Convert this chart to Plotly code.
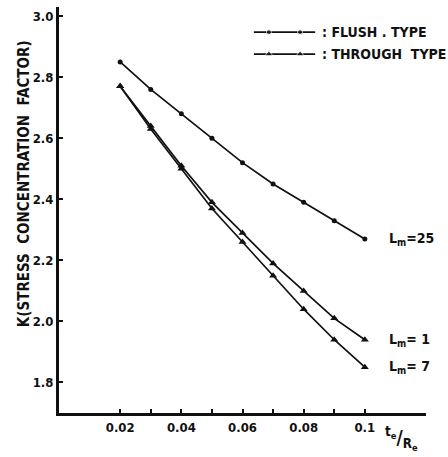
import plotly.graph_objects as go

# Relative thickness t_e/R_e
ratio = [0.02, 0.03, 0.04, 0.05, 0.06, 0.07, 0.08, 0.09, 0.10]

# Stress concentration factor K
k_flush_lm25 = [2.85, 2.76, 2.68, 2.60, 2.52, 2.45, 2.39, 2.33, 2.27]
k_through_lm1 = [2.77, 2.64, 2.51, 2.39, 2.29, 2.19, 2.10, 2.01, 1.94]
k_through_lm7 = [2.77, 2.63, 2.50, 2.37, 2.26, 2.15, 2.04, 1.94, 1.85]

curve_labels = ["L<sub>m</sub>=25", "L<sub>m</sub>= 1", "L<sub>m</sub>= 7"]
legend_names = [": FLUSH . TYPE", ": THROUGH  TYPE"]

x_ticks = [0.02, 0.03, 0.04, 0.05, 0.06, 0.07, 0.08, 0.09, 0.10]
x_tick_text = ["0.02", "", "0.04", "", "0.06", "", "0.08", "", "0.1"]
y_ticks = [1.8, 2.0, 2.2, 2.4, 2.6, 2.8, 3.0]
y_tick_text = ["1.8", "2.0", "2.2", "2.4", "2.6", "2.8", "3.0"]

FONT = "DejaVu Sans Condensed, Liberation Sans Narrow, Arial Narrow, sans-serif"
INK = "#111111"


def txt(size):
    return dict(family=FONT, size=size, color=INK, weight="bold")


fig = go.Figure()

series = [
    (k_flush_lm25, "circle", 5),
    (k_through_lm1, "triangle-up", 7),
    (k_through_lm7, "triangle-up", 7),
]
for values, symbol, size in series:
    fig.add_trace(go.Scatter(
        x=ratio, y=values, mode="lines+markers",
        line=dict(color=INK, width=1.7),
        marker=dict(symbol=symbol, size=size, color=INK),
        showlegend=False, hoverinfo="skip",
    ))

# Curve labels at the right-hand end of each curve
for values, label in zip(series, curve_labels):
    fig.add_annotation(
        x=ratio[-1], y=values[0][-1], xref="x", yref="y",
        text=label, showarrow=False, xanchor="left", yanchor="middle",
        xshift=22, font=txt(14),
    )

# Hand-drawn key in the upper right, on an overlay axis spanning the plot area
key_rows = [(0.938, "circle", 5), (0.884, "triangle-up", 7)]
for (yk, symbol, size), name in zip(key_rows, legend_names):
    fig.add_trace(go.Scatter(
        x=[0.531, 0.572, 0.657, 0.698], y=[yk] * 4,
        xaxis="x2", yaxis="y2", mode="lines+markers",
        line=dict(color=INK, width=1.7),
        marker=dict(symbol=symbol, size=[0, size, size, 0], color=INK),
        showlegend=False, hoverinfo="skip",
    ))
    fig.add_annotation(
        x=0.712, y=yk, xref="x2", yref="y2", text=name, showarrow=False,
        xanchor="left", yanchor="middle", font=txt(14),
    )

# Vertical axis caption
fig.add_annotation(
    x=-0.095, y=0.564, xref="paper", yref="paper",
    text="K(STRESS  CONCENTRATION  FACTOR)", textangle=-90,
    showarrow=False, xanchor="center", yanchor="middle", font=txt(15),
)

# Horizontal axis caption t_e / R_e
fig.add_annotation(
    x=0.932, y=-0.064, xref="paper", yref="paper",
    text="<sup>t<sub>e</sub></sup>/<sub>R<sub>e</sub></sub>", showarrow=False,
    xanchor="center", yanchor="middle", font=txt(19),
)

fig.update_layout(
    width=448, height=457,
    margin=dict(l=59, r=22, t=7, b=44),
    paper_bgcolor="white", plot_bgcolor="white",
    font=dict(family=FONT, color=INK),
    xaxis=dict(
        range=[0, 0.12], tickvals=x_ticks, ticktext=x_tick_text,
        showline=True, linecolor=INK, linewidth=3, mirror=False,
        ticks="inside", ticklen=4, tickwidth=1.5, tickcolor=INK,
        showgrid=False, zeroline=False, tickfont=txt(13),
    ),
    yaxis=dict(
        range=[1.70, 3.03], tickvals=y_ticks, ticktext=y_tick_text,
        showline=True, linecolor=INK, linewidth=3,
        ticks="inside", ticklen=4, tickwidth=1.5, tickcolor=INK,
        showgrid=False, zeroline=False, tickfont=txt(13),
    ),
    xaxis2=dict(range=[0, 1], overlaying="x", visible=False, fixedrange=True),
    yaxis2=dict(range=[0, 1], overlaying="y", visible=False, fixedrange=True),
)

fig.write_html("out.html")
